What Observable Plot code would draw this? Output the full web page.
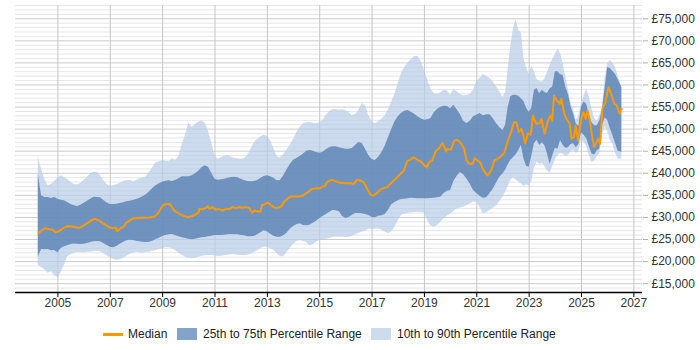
<!DOCTYPE html>
<html>
<head>
<meta charset="utf-8">
<script src="https://cdn.jsdelivr.net/npm/d3@7"></script>
<script src="https://cdn.jsdelivr.net/npm/@observablehq/plot@0.6"></script>
<style>
  html, body { margin: 0; padding: 0; background: #fff; }
  #wrap { position: relative; width: 700px; height: 350px; font-family: "Liberation Sans", Arial, sans-serif; }
  #legend { position: absolute; left: 0; top: 315px; width: 700px; height: 35px; font-size: 12px; color: #222; }
  #legend .sw { position: absolute; }
  #legend .lb { position: absolute; top: 12px; line-height: 14px; white-space: nowrap; }
</style>
</head>
<body>
<div id="wrap">
  <div id="chart"></div>
  <div id="legend">
    <div class="sw" style="left:103px; top:17.5px; width:20px; height:3px; background:#ff9900;"></div>
    <div class="lb" style="left:128px;">Median</div>
    <div class="sw" style="left:177px; top:13px; width:20px; height:12px; background:#84a3c8;"></div>
    <div class="lb" style="left:203px;">25th to 75th Percentile Range</div>
    <div class="sw" style="left:371px; top:13px; width:20px; height:12px; background:#ccdcee;"></div>
    <div class="lb" style="left:397px;">10th to 90th Percentile Range</div>
  </div>
</div>
<script>
// Sample dates (decimal years) for the percentile bands
const bandYears = [
  2004.25, 2004.375, 2004.5, 2004.625, 2004.75, 2004.875,
  2005, 2005.125, 2005.25, 2005.375, 2005.5, 2005.625, 2005.75, 2005.875,
  2006, 2006.125, 2006.25, 2006.375, 2006.5, 2006.625, 2006.75, 2006.875,
  2007, 2007.125, 2007.25, 2007.375, 2007.5, 2007.625, 2007.75, 2007.875,
  2008, 2008.125, 2008.25, 2008.375, 2008.5, 2008.625, 2008.75, 2008.875,
  2009, 2009.125, 2009.25, 2009.375, 2009.5, 2009.625, 2009.75, 2009.875,
  2010, 2010.125, 2010.25, 2010.375, 2010.5, 2010.625, 2010.75, 2010.875,
  2011, 2011.125, 2011.25, 2011.375, 2011.5, 2011.625, 2011.75, 2011.875,
  2012, 2012.125, 2012.25, 2012.375, 2012.5, 2012.625, 2012.75, 2012.875,
  2013, 2013.125, 2013.25, 2013.375, 2013.5, 2013.625, 2013.75, 2013.875,
  2014, 2014.125, 2014.25, 2014.375, 2014.5, 2014.625, 2014.75, 2014.875,
  2015, 2015.125, 2015.25, 2015.375, 2015.5, 2015.625, 2015.75, 2015.875,
  2016, 2016.125, 2016.25, 2016.375, 2016.5, 2016.625, 2016.75, 2016.875,
  2017, 2017.125, 2017.25, 2017.375, 2017.5, 2017.625, 2017.75, 2017.875,
  2018, 2018.125, 2018.25, 2018.375, 2018.5, 2018.625, 2018.75, 2018.875,
  2019, 2019.125, 2019.25, 2019.375, 2019.5, 2019.625, 2019.75, 2019.875,
  2020, 2020.125, 2020.25, 2020.375, 2020.5, 2020.625, 2020.75, 2020.875,
  2021, 2021.125, 2021.25, 2021.375, 2021.5, 2021.625, 2021.75, 2021.875,
  2022, 2022.1, 2022.2, 2022.3, 2022.4, 2022.5, 2022.6, 2022.7, 2022.8, 2022.9,
  2023, 2023.1, 2023.2, 2023.3, 2023.4, 2023.5, 2023.6, 2023.7, 2023.8, 2023.9,
  2024, 2024.1, 2024.2, 2024.3, 2024.4, 2024.5, 2024.6, 2024.7, 2024.8, 2024.9,
  2025, 2025.1, 2025.2, 2025.3, 2025.4, 2025.5, 2025.6, 2025.7, 2025.8, 2025.9,
  2026, 2026.1, 2026.2, 2026.3, 2026.4, 2026.54
];

// 90th percentile
const p90 = [
  43650, 40970, 38520, 37160, 37460, 38140,
  38900, 39430, 39050, 38590, 37920, 37460, 37390, 37690,
  38370, 39120, 39880, 40260, 40180, 39580, 38370, 37460,
  37080, 37160, 37390, 37760, 38070, 38290, 38440, 38070,
  38370, 38750, 38970, 39200, 40260, 41310, 42370, 42600,
  42900, 42750, 42670, 43280, 42900, 43880, 46450, 48710,
  51430, 50370, 51050, 51580, 51880, 51350, 49620, 46820,
  43800, 43200, 43580, 43880, 44030, 43650, 43430, 43280,
  43120, 43350, 44030, 45470, 46900, 47730, 48260, 48640,
  48410, 47350, 45620, 43800, 43500, 44260, 45240, 46370,
  47650, 49240, 50370, 51200, 51430, 51580, 51350, 51200,
  51430, 52030, 53090, 54000, 54370, 54450, 54260, 54410,
  54150, 53690, 53010, 53390, 54300, 55810, 55280, 53010,
  51730, 51200, 51660, 52260, 53010, 54370, 56110, 58000,
  60410, 62600, 64040, 64940, 65700, 66450, 66450, 65320,
  63360, 61170, 58980, 58070, 57850, 58220, 58830, 58680,
  57700, 58980, 58450, 57850, 57550, 57620, 57920, 58830,
  60790, 61550, 62300, 62000, 61550, 60720, 59580, 58450,
  57170, 58380, 63590, 68720, 72800, 74800, 72270, 71970, 65930, 63890,
  62380, 64190, 63060, 61240, 60790, 60640, 61400, 62910, 64420, 65770,
  66910, 68120, 67060, 64790, 61770, 58900, 55960, 54500, 52000, 53000,
  56000, 57500, 59060, 57240, 54600, 52490, 51810, 53010, 54750, 61500,
  64790, 65550, 64940, 63960, 62000, 59660
];

// 75th percentile
const p75 = [
  39880, 34900, 34520, 34520, 34290, 34520,
  34140, 33910, 33760, 33390, 32930, 32630, 32480, 32780,
  33230, 33690, 34140, 34590, 34520, 34440, 33840, 33310,
  32930, 32930, 33010, 33160, 33310, 33540, 33690, 33840,
  34060, 34370, 34670, 35120, 35800, 36560, 37160, 37610,
  37990, 38220, 38290, 38140, 38440, 38750, 39200, 39200,
  39200, 39430, 39880, 40480, 41240, 41690, 41390, 40030,
  38670, 38440, 38520, 38670, 38900, 39050, 39120, 38970,
  38670, 38370, 38140, 38070, 38140, 38370, 38820, 39270,
  39430, 39200, 38900, 38290, 38370, 39430, 40780, 41990,
  42970, 43350, 43800, 44330, 45010, 45160, 45010, 44710,
  44560, 44790, 45310, 45770, 45990, 45990, 45770, 45620,
  45470, 45470, 45620, 46370, 46980, 46750, 45470, 44030,
  43120, 42900, 43650, 44710, 46140, 48030, 49920, 51660,
  52790, 53620, 54070, 54220, 53850, 53390, 52790, 52340,
  52030, 52110, 52410, 53690, 54450, 54980, 55200, 55130,
  54600, 55430, 54370, 53240, 51810, 51280, 51810, 52790,
  53170, 53540, 53010, 53240, 53240, 52410, 51280, 50370,
  49690, 50900, 54900, 57320, 57700, 57700, 57470, 56870, 56260, 54750,
  53850, 54680, 58830, 59210, 58000, 58830, 58300, 58070, 59130, 59510,
  62980, 62980, 62300, 62150, 59510, 57850, 55050, 53390, 51200, 50600,
  54980, 56190, 55580, 53090, 51430, 50750, 50750, 51880, 54450, 59130,
  63960, 63740, 63060, 62380, 61170, 59430
];

// 25th percentile
const p25 = [
  21000, 22740, 22660, 22740, 22440, 22510,
  21980, 22970, 23340, 23570, 23870, 23990, 23950, 23870,
  23950, 24100, 24330, 24480, 24550, 24480, 24100, 23650,
  23270, 23120, 23420, 23950, 24330, 24700, 24850, 24780,
  24630, 24480, 24400, 24330, 24400, 24630, 25000, 25310,
  25680, 25910, 26060, 26140, 25840, 25610, 25380, 25230,
  25080, 24930, 25080, 25230, 25380, 25460, 25610, 25760,
  25910, 25910, 25910, 25990, 26060, 26140, 26060, 26060,
  25910, 25840, 25610, 25610, 25680, 26060, 26510, 26970,
  26740, 26210, 25760, 25530, 25530, 25840, 26440, 27350,
  27950, 28330, 28550, 28180, 28100, 28250, 28700, 29160,
  29690, 30210, 30670, 31120, 31570, 31500, 31270, 30210,
  29760, 29990, 30520, 30890, 30890, 30820, 30670, 30440,
  29990, 29910, 30290, 30370, 30670, 31650, 32860, 33390,
  33760, 34060, 34140, 34220, 34370, 34290, 34220, 34220,
  34220, 34220, 34290, 34370, 34440, 34590, 35420, 35950,
  36100, 38140, 39350, 40180, 39650, 38670, 37540, 36100,
  35420, 34820, 34370, 34440, 35350, 36400, 37760, 39050,
  39880, 40710, 41920, 42970, 43500, 44180, 45090, 46300, 43280, 41610,
  41390, 43800, 46670, 47500, 46300, 46900, 46220, 44410, 41990, 43960,
  45690, 45470, 47430, 46300, 45690, 45770, 46520, 46670, 45800, 46500,
  49160, 48640, 47810, 45990, 44410, 44110, 45090, 45500, 50750, 52560,
  51960, 50150, 48490, 46750, 45010, 44790
];

// 10th percentile
const p10 = [
  19120, 18660, 18130, 17380, 17680, 16780,
  16320, 17530, 19190, 21080, 21530, 21910, 22140, 21980,
  21980, 22140, 22140, 22210, 22290, 22210, 21830, 21310,
  20850, 20470, 20320, 20400, 20700, 21150, 21680, 21910,
  22140, 21980, 21910, 22060, 22140, 22360, 22510, 22740,
  22890, 23120, 23120, 22890, 22440, 21910, 21460, 21000,
  20780, 20630, 20780, 21000, 21150, 21310, 21380, 21380,
  21310, 21150, 21230, 21310, 21460, 21530, 21530, 21460,
  21380, 21380, 21460, 21680, 21980, 22440, 22970, 23270,
  23270, 22970, 22590, 21760, 21080, 21150, 21980, 23040,
  23870, 24480, 24780, 24550, 24330, 23570, 23870, 24400,
  24780, 25000, 25080, 25230, 25460, 25500, 25520, 25500,
  25480, 25500, 25680, 26060, 26400, 26640, 26940, 27350,
  27250, 27300, 27400, 27120, 26680, 26330, 26700, 27720,
  29230, 30490, 30720, 30960, 31080, 31140, 31200, 31120,
  31000, 29330, 28030, 27770, 28180, 28930, 29690, 30250,
  30800, 31340, 31900, 32130, 32300, 32680, 33020, 33480,
  33440, 32250, 30790, 31050, 31590, 32100, 32590, 33550,
  34620, 35700, 37000, 38400, 39000, 38500, 38000, 37600, 37000, 37400,
  37200, 38000, 41000, 42500, 42000, 42300, 41500, 40500, 40000, 41500,
  43000, 44000, 44500, 44300, 43800, 44000, 44800, 45200, 44500, 45000,
  47500, 47000, 46000, 44000, 42500, 42800, 43800, 44500, 48500, 50500,
  49500, 47500, 46500, 44500, 43200, 43200
];

// Median, with its own sample dates
const medianYears = [
  2004.26, 2004.34, 2004.53, 2004.66, 2004.78, 2004.91, 2005.04, 2005.23, 2005.36, 2005.55,
  2005.68, 2005.80, 2005.93, 2006.12, 2006.32, 2006.42, 2006.57, 2006.76, 2006.95, 2007.08,
  2007.21, 2007.27, 2007.40, 2007.53, 2007.59, 2007.72, 2007.85, 2007.98, 2008.23, 2008.49,
  2008.68, 2008.81, 2008.93, 2009.00, 2009.13, 2009.25, 2009.32, 2009.44, 2009.64, 2009.83,
  2009.96, 2010.08, 2010.27, 2010.38, 2010.40, 2010.53, 2010.66, 2010.72, 2010.79, 2010.91,
  2011.04, 2011.17, 2011.30, 2011.42, 2011.55, 2011.68, 2011.81, 2011.93, 2012.06, 2012.19,
  2012.32, 2012.42, 2012.51, 2012.64, 2012.74, 2012.80, 2012.89, 2013.02, 2013.15, 2013.28,
  2013.40, 2013.53, 2013.66, 2013.79, 2013.91, 2014.04, 2014.23, 2014.36, 2014.55, 2014.68,
  2014.87, 2015.00, 2015.10, 2015.19, 2015.28, 2015.45, 2015.59, 2015.78, 2015.98, 2016.17,
  2016.30, 2016.42, 2016.55, 2016.68, 2016.81, 2016.94, 2017.06, 2017.19, 2017.32, 2017.45,
  2017.58, 2017.70, 2017.90, 2018.09, 2018.22, 2018.34, 2018.47, 2018.60, 2018.73, 2018.86,
  2018.98, 2019.09, 2019.18, 2019.30, 2019.43, 2019.56, 2019.69, 2019.82, 2019.88, 2020.01,
  2020.14, 2020.27, 2020.39, 2020.52, 2020.61, 2020.71, 2020.84, 2020.93, 2021.03, 2021.14,
  2021.23, 2021.35, 2021.42, 2021.55, 2021.67, 2021.80, 2021.93, 2022.06, 2022.19, 2022.31,
  2022.42, 2022.51, 2022.60, 2022.70, 2022.76, 2022.85, 2022.95, 2023.06, 2023.15, 2023.27,
  2023.40, 2023.47, 2023.59, 2023.72, 2023.82, 2023.88, 2023.95, 2024.04, 2024.17, 2024.23,
  2024.34, 2024.43, 2024.55, 2024.62, 2024.71, 2024.78, 2024.87, 2024.98, 2025.07, 2025.16,
  2025.23, 2025.32, 2025.42, 2025.49, 2025.58, 2025.64, 2025.71, 2025.80, 2025.92, 2026.03,
  2026.13, 2026.26, 2026.35, 2026.45, 2026.54
];
const medianValues = [
  26440, 26890, 27570, 27350, 27270, 26670, 26890, 27650, 28020, 27950,
  27800, 27650, 27950, 28700, 29460, 29690, 29310, 28550, 27800, 27570,
  27650, 26890, 27570, 28020, 28700, 29160, 29760, 29840, 29910, 29990,
  30140, 30820, 31950, 32710, 33010, 33080, 32710, 31570, 30820, 30290,
  30060, 30210, 30670, 31200, 31950, 31880, 32180, 32550, 31950, 32330,
  31720, 31880, 31570, 31950, 31880, 32330, 32100, 32330, 32180, 32330,
  32100, 31040, 31570, 31350, 31350, 32860, 32930, 33390, 32710, 32180,
  32180, 32480, 33690, 34370, 34740, 34740, 34740, 34970, 35730, 36410,
  36630, 36560, 37010, 37010, 37990, 38520, 38220, 37840, 37760, 37760,
  37610, 38520, 38370, 37990, 36480, 35120, 34970, 35500, 36330, 36630,
  36860, 37610, 38750, 39880, 40630, 42750, 43120, 43650, 43050, 42670,
  41920, 41310, 42520, 42900, 45010, 45690, 46900, 44940, 45540, 45310,
  47430, 47580, 46820, 45540, 42900, 42140, 42140, 43430, 42900, 42370,
  41010, 39880, 39500, 40630, 42900, 43280, 43880, 44790, 47430, 49320,
  51580, 51580, 49320, 50070, 48940, 46820, 49090, 48710, 53090, 51200,
  51350, 52340, 48940, 51960, 53090, 51960, 57620, 56640, 55730, 56870,
  53470, 52340, 51200, 47810, 48180, 50830, 47430, 51960, 53850, 52340,
  54230, 51960, 47810, 45920, 47050, 47810, 46670, 54600, 56110, 59510,
  58000, 55730, 55360, 53470, 54600
];

// Axis ticks
const xTicks = [2005, 2007, 2009, 2011, 2013, 2015, 2017, 2019, 2021, 2023, 2025, 2027];
const yTicks = [15000, 20000, 25000, 30000, 35000, 40000, 45000, 50000, 55000, 60000, 65000, 70000, 75000];
const yMinor = d3.range(14000, 78001, 1000).filter(v => v % 5000 !== 0);

const bands = bandYears.map((x, i) => ({x, p10: p10[i], p25: p25[i], p75: p75[i], p90: p90[i]}));
const median = medianYears.map((x, i) => ({x, y: medianValues[i]}));

const fmt = d3.format(",");

const chart = Plot.plot({
  width: 700,
  height: 315,
  marginLeft: 15,
  marginRight: 58,
  marginTop: 5,
  marginBottom: 23,
  style: {fontFamily: "'Liberation Sans', Arial, sans-serif", fontSize: "12px", color: "#333", background: "#fff"},
  x: {type: "linear", domain: [2003.38, 2027.33]},
  y: {domain: [13000, 78000]},
  marks: [
    // grid beneath the translucent bands
    Plot.ruleY(yMinor, {stroke: "#e6e6e6"}),
    Plot.ruleY(yTicks, {stroke: "#cccccc"}),
    Plot.ruleX(xTicks, {stroke: "#c6c6c6"}),
    Plot.areaY(bands, {x: "x", y1: "p10", y2: "p90", fill: "#b6cde7", fillOpacity: 0.7}),
    Plot.areaY(bands, {x: "x", y1: "p25", y2: "p75", fill: "#5781b1", fillOpacity: 0.8}),
    Plot.line(median, {x: "x", y: "y", stroke: "#ff9900", strokeWidth: 2}),
    Plot.ruleY([13000], {stroke: "#000", strokeWidth: 1.3}),
    Plot.axisX(xTicks, {label: null, tickFormat: d => String(d), tickSize: 5, tickPadding: 1, stroke: "#000", fill: "#333", fontSize: 12}),
    Plot.axisY(yTicks, {label: null, anchor: "right", tickFormat: d => "£" + fmt(d), tickSize: 5, tickPadding: 4, stroke: "#b0b0b0", fill: "#333", fontSize: 12})
  ]
});
document.getElementById("chart").appendChild(chart);
</script>
</body>
</html>
